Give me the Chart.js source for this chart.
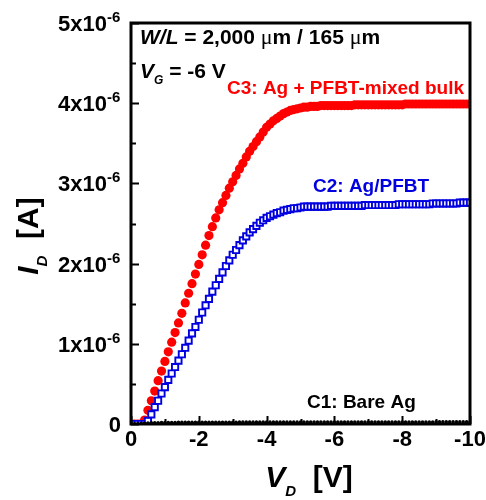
<!DOCTYPE html>
<html>
<head>
<meta charset="utf-8">
<script src="https://cdn.jsdelivr.net/npm/chart.js@4/dist/chart.umd.min.js"></script>
<style>
  html, body { margin: 0; padding: 0; background: #fff; }
  #wrap { width: 486px; height: 500px; }
</style>
</head>
<body>
<div id="wrap"><canvas id="ivChart"></canvas></div>
<script>
// drain voltage sweep (V)
const vd = [
  0, -0.1, -0.2, -0.3, -0.4, -0.5, -0.6, -0.7, -0.8, -0.9,
  -1.0, -1.1, -1.2, -1.3, -1.4, -1.5, -1.6, -1.7, -1.8, -1.9,
  -2.0, -2.1, -2.2, -2.3, -2.4, -2.5, -2.6, -2.7, -2.8, -2.9,
  -3.0, -3.1, -3.2, -3.3, -3.4, -3.5, -3.6, -3.7, -3.8, -3.9,
  -4.0, -4.1, -4.2, -4.3, -4.4, -4.5, -4.6, -4.7, -4.8, -4.9,
  -5.0, -5.1, -5.2, -5.3, -5.4, -5.5, -5.6, -5.7, -5.8, -5.9,
  -6.0, -6.1, -6.2, -6.3, -6.4, -6.5, -6.6, -6.7, -6.8, -6.9,
  -7.0, -7.1, -7.2, -7.3, -7.4, -7.5, -7.6, -7.7, -7.8, -7.9,
  -8.0, -8.1, -8.2, -8.3, -8.4, -8.5, -8.6, -8.7, -8.8, -8.9,
  -9.0, -9.1, -9.2, -9.3, -9.4, -9.5, -9.6, -9.7, -9.8, -9.9,
  -10.0
]

// drain current, in units of 1e-6 A
// C3: Ag + PFBT-mixed bulk
const c3Bulk = [
  0, 0, 0, 0, 0.05, 0.17, 0.29, 0.41, 0.54, 0.66,
  0.78, 0.90, 1.02, 1.14, 1.26, 1.38, 1.51, 1.63, 1.75, 1.87,
  1.99, 2.11, 2.23, 2.35, 2.46, 2.57, 2.67, 2.76, 2.85, 2.94,
  3.02, 3.10, 3.18, 3.25, 3.33, 3.40, 3.46, 3.52, 3.58, 3.64,
  3.70, 3.74, 3.78, 3.81, 3.84, 3.87, 3.89, 3.91, 3.92, 3.93,
  3.94, 3.95, 3.95, 3.96, 3.96, 3.96, 3.97, 3.97, 3.97, 3.97,
  3.97, 3.97, 3.97, 3.97, 3.97, 3.97, 3.98, 3.98, 3.98, 3.98,
  3.98, 3.98, 3.98, 3.98, 3.98, 3.98, 3.98, 3.98, 3.98, 3.98,
  3.98, 3.99, 3.99, 3.99, 3.99, 3.99, 3.99, 3.99, 3.99, 3.99,
  3.99, 3.99, 3.99, 3.99, 3.99, 3.99, 3.99, 3.99, 3.99, 3.99,
  3.99
]
// C2: Ag/PFBT
const c2Pfbt = [
  0, 0, 0, 0, 0, 0.04, 0.12, 0.21, 0.29, 0.38,
  0.46, 0.55, 0.63, 0.71, 0.79, 0.87, 0.95, 1.04, 1.13, 1.21,
  1.30, 1.39, 1.48, 1.56, 1.65, 1.73, 1.81, 1.89, 1.97, 2.04,
  2.11, 2.17, 2.23, 2.29, 2.34, 2.39, 2.43, 2.47, 2.51, 2.54,
  2.57, 2.59, 2.61, 2.63, 2.64, 2.66, 2.67, 2.68, 2.69, 2.69,
  2.70, 2.71, 2.71, 2.71, 2.71, 2.71, 2.71, 2.71, 2.71, 2.72,
  2.72, 2.72, 2.72, 2.72, 2.72, 2.72, 2.72, 2.72, 2.72, 2.73,
  2.73, 2.73, 2.73, 2.73, 2.73, 2.73, 2.73, 2.73, 2.73, 2.74,
  2.74, 2.74, 2.74, 2.74, 2.74, 2.74, 2.74, 2.74, 2.74, 2.75,
  2.75, 2.75, 2.75, 2.75, 2.75, 2.75, 2.75, 2.76, 2.76, 2.76,
  2.76
]
// C1: Bare Ag
const c1Bare = [
  0, 0, 0, 0.005, 0.010, 0.012, 0.014, 0.015, 0.016, 0.017,
  0.018, 0.018, 0.019, 0.019, 0.020, 0.020, 0.020, 0.021, 0.021, 0.021,
  0.022, 0.022, 0.022, 0.022, 0.022, 0.022, 0.022, 0.022, 0.022, 0.022,
  0.022, 0.022, 0.023, 0.023, 0.023, 0.023, 0.023, 0.023, 0.023, 0.023,
  0.023, 0.023, 0.023, 0.023, 0.023, 0.023, 0.023, 0.023, 0.023, 0.023,
  0.024, 0.024, 0.024, 0.024, 0.024, 0.024, 0.024, 0.024, 0.024, 0.024,
  0.024, 0.024, 0.024, 0.024, 0.024, 0.024, 0.024, 0.024, 0.024, 0.024,
  0.025, 0.025, 0.025, 0.025, 0.025, 0.025, 0.025, 0.025, 0.025, 0.025,
  0.025, 0.025, 0.025, 0.025, 0.025, 0.025, 0.025, 0.025, 0.025, 0.025,
  0.026, 0.026, 0.026, 0.026, 0.026, 0.026, 0.026, 0.026, 0.026, 0.026,
  0.026
]

const xTicks = [0, -2, -4, -6, -8, -10]
const xMinor = [-1, -3, -5, -7, -9]
const yTicks = [0, 1, 2, 3, 4, 5]          // x 1e-6 A
const yMinor = [0.5, 1.5, 2.5, 3.5, 4.5]

const FONT = '"Liberation Sans", Arial, sans-serif'
const SERIF = '"Liberation Serif", "Times New Roman", serif'

function toPoints(ys) {
  return vd.map((v, i) => ({ x: v, y: ys[i] * 1e-6 }))
}

// draw a row of text pieces (for italics, sub- and superscripts)
function drawRuns(ctx, x, y, runs) {
  let cx = x
  for (const r of runs) {
    ctx.font = r.font
    ctx.fillStyle = r.color || '#000'
    ctx.fillText(r.text, cx, y + (r.dy || 0))
    cx += ctx.measureText(r.text).width + (r.gap || 0)
  }
  return cx - x
}
function runsWidth(ctx, runs) {
  let w = 0
  for (const r of runs) {
    ctx.font = r.font
    w += ctx.measureText(r.text).width + (r.gap || 0)
  }
  return w
}

const decorations = {
  id: 'decorations',
  afterDatasetsDraw(chart) {
    const ctx = chart.ctx
    const a = chart.chartArea
    const xs = chart.scales.x
    const ys = chart.scales.y
    ctx.save()

    // frame
    ctx.strokeStyle = '#000'
    ctx.lineWidth = 3
    ctx.strokeRect(a.left, a.top, a.right - a.left, a.bottom - a.top)

    // inward ticks
    ctx.lineWidth = 2
    ctx.beginPath()
    for (const v of yTicks) {
      const py = Math.round(ys.getPixelForValue(v * 1e-6)) + 0.5
      ctx.moveTo(a.left, py); ctx.lineTo(a.left + 8, py)
    }
    for (const v of yMinor) {
      const py = Math.round(ys.getPixelForValue(v * 1e-6)) + 0.5
      ctx.moveTo(a.left, py); ctx.lineTo(a.left + 5, py)
    }
    for (const v of xTicks) {
      const px = Math.round(xs.getPixelForValue(v)) + 0.5
      ctx.moveTo(px, a.bottom); ctx.lineTo(px, a.bottom - 8)
    }
    for (const v of xMinor) {
      const px = Math.round(xs.getPixelForValue(v)) + 0.5
      ctx.moveTo(px, a.bottom); ctx.lineTo(px, a.bottom - 5)
    }
    ctx.stroke()

    // y tick labels: N x 10^-6
    ctx.fillStyle = '#000'
    ctx.textBaseline = 'alphabetic'
    for (const v of yTicks) {
      const py = ys.getPixelForValue(v * 1e-6)
      ctx.textAlign = 'right'
      ctx.font = 'bold 22px ' + FONT
      if (v === 0) {
        ctx.fillText('0', 121, py + 8)
        continue
      }
      ctx.fillText(v + 'x10', 107, py + 8)
      ctx.textAlign = 'left'
      ctx.font = 'bold 15px ' + FONT
      ctx.fillText('-6', 107, py - 1)
    }

    // x tick labels
    ctx.textAlign = 'center'
    ctx.font = 'bold 22px ' + FONT
    for (const v of xTicks) {
      ctx.fillText(v === 0 ? '0' : String(v), xs.getPixelForValue(v), 446)
    }

    // axis titles
    ctx.textAlign = 'left'
    const xTitle = [
      { text: 'V', font: 'italic bold 30px ' + FONT },
      { text: 'D', font: 'italic bold 15px ' + FONT, dy: 9 },
      { text: '  [V]', font: 'bold 30px ' + FONT }
    ]
    const xw = runsWidth(ctx, xTitle)
    drawRuns(ctx, 309 - xw / 2, 487, xTitle)

    const yTitle = [
      { text: 'I', font: 'italic bold 30px ' + FONT },
      { text: 'D', font: 'italic bold 15px ' + FONT, dy: 9 },
      { text: '  [A]', font: 'bold 30px ' + FONT }
    ]
    const yw = runsWidth(ctx, yTitle)
    ctx.save()
    ctx.translate(38, 236)
    ctx.rotate(-Math.PI / 2)
    drawRuns(ctx, -yw / 2, 0, yTitle)
    ctx.restore()

    // device info
    drawRuns(ctx, 140, 44, [
      { text: 'W/L', font: 'italic bold 21px ' + FONT },
      { text: ' = 2,000 ', font: 'bold 21px ' + FONT },
      { text: 'μ', font: '22px ' + SERIF },
      { text: 'm / 165 ', font: 'bold 21px ' + FONT },
      { text: 'μ', font: '22px ' + SERIF },
      { text: 'm', font: 'bold 21px ' + FONT }
    ])
    drawRuns(ctx, 140, 78, [
      { text: 'V', font: 'italic bold 21px ' + FONT },
      { text: 'G', font: 'italic bold 12px ' + FONT, dy: 6 },
      { text: ' = -6 V', font: 'bold 21px ' + FONT }
    ])

    // curve labels
    ctx.font = 'bold 19px ' + FONT
    ctx.fillStyle = '#ff0000'
    ctx.fillText('C3: Ag + PFBT-mixed bulk', 227, 94)
    ctx.fillStyle = '#0000e0'
    ctx.fillText('C2: Ag/PFBT', 313, 192)
    ctx.fillStyle = '#000'
    ctx.fillText('C1: Bare Ag', 307, 408)

    ctx.restore()
  }
}

new Chart(document.getElementById('ivChart'), {
  type: 'line',
  data: {
    datasets: [
      {
        label: 'C3: Ag + PFBT-mixed bulk',
        data: toPoints(c3Bulk),
        showLine: false,
        pointStyle: 'circle',
        pointRadius: 4.6,
        pointBackgroundColor: '#ff0000',
        pointBorderColor: '#ff0000',
        pointBorderWidth: 0,
        order: 3
      },
      {
        label: 'C2: Ag/PFBT',
        data: toPoints(c2Pfbt),
        showLine: false,
        pointStyle: 'rect',
        pointRadius: 4.4,
        pointBackgroundColor: '#ffffff',
        pointBorderColor: '#0000e0',
        pointBorderWidth: 1.9,
        order: 2
      },
      {
        label: 'C1: Bare Ag',
        data: toPoints(c1Bare),
        showLine: false,
        pointStyle: 'circle',
        pointRadius: 1.8,
        pointBackgroundColor: '#000',
        pointBorderColor: '#000',
        pointBorderWidth: 0,
        order: 1
      }
    ]
  },
  options: {
    responsive: true,
    maintainAspectRatio: false,
    animation: false,
    layout: { padding: { left: 131, right: 16, top: 23, bottom: 76 } },
    plugins: {
      legend: { display: false },
      tooltip: { enabled: false }
    },
    scales: {
      x: {
        type: 'linear',
        reverse: true,
        min: -10,
        max: 0,
        display: false
      },
      y: {
        type: 'linear',
        min: 0,
        max: 5e-6,
        display: false
      }
    }
  },
  plugins: [decorations]
})
</script>
</body>
</html>
